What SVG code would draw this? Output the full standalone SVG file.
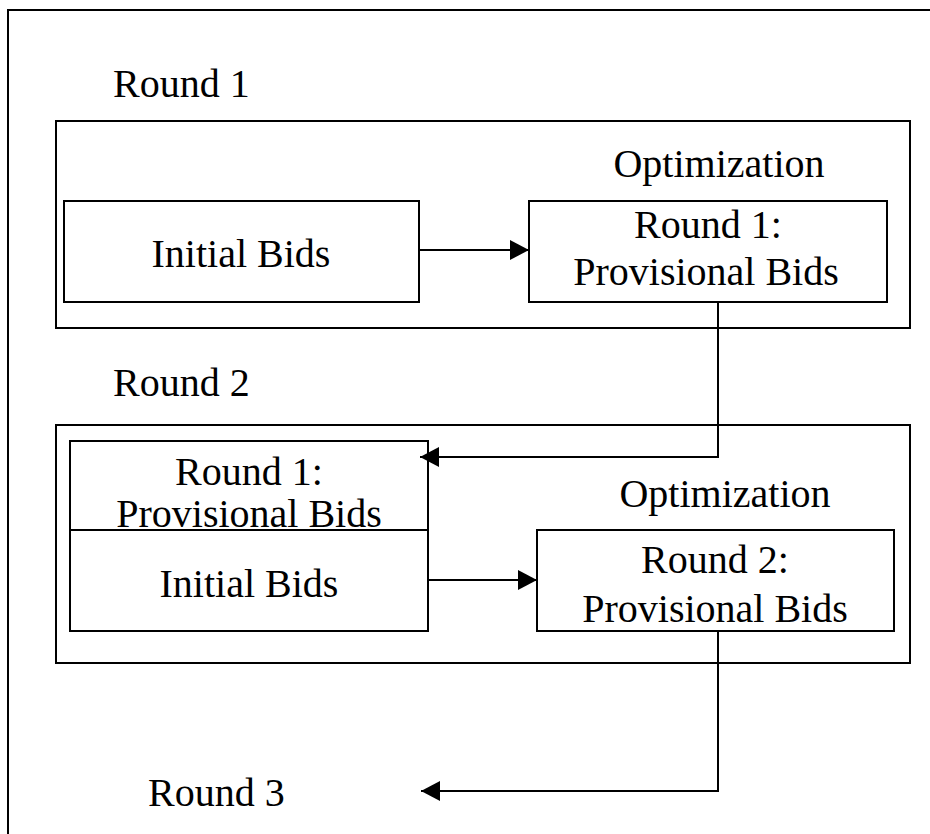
<svg xmlns="http://www.w3.org/2000/svg" width="930" height="834" viewBox="0 0 930 834">
<defs>
<style>
.box{fill:none;stroke:#000;stroke-width:2}
.ln{fill:none;stroke:#000;stroke-width:2}
text{font-family:"Liberation Serif","Times New Roman",serif;font-size:40px;fill:#000}
.c{text-anchor:middle}
</style>
<marker id="ah" viewBox="0 0 19 20" refX="19" refY="10" markerWidth="19" markerHeight="20" markerUnits="userSpaceOnUse" orient="auto">
<path d="M0,0 L19,10 L0,20 z" fill="#000"/>
</marker>
</defs>
<rect width="930" height="834" fill="#fff"/>
<g id="frame"><path class="ln" d="M8,834 V10 H930"/></g>
<g id="round1">
<text x="113" y="97">Round 1</text>
<rect class="box" x="56" y="121" width="854" height="207"/>
<text class="c" x="719" y="177">Optimization</text>
</g>
<g id="r1-initial">
<rect class="box" x="64" y="201" width="355" height="101"/>
<text class="c" x="241" y="267">Initial Bids</text>
</g>
<g id="r1-provisional">
<rect class="box" x="529" y="201" width="358" height="101"/>
<text class="c" x="708" y="238">Round 1:</text>
<text class="c" x="706" y="285">Provisional Bids</text>
</g>
<g id="round2">
<text x="113" y="396">Round 2</text>
<rect class="box" x="56" y="425" width="854" height="238"/>
<text class="c" x="725" y="507">Optimization</text>
</g>
<g id="r2-prev">
<rect class="box" x="70" y="441" width="358" height="89"/>
<text class="c" x="249" y="485">Round 1:</text>
<text class="c" x="249" y="527">Provisional Bids</text>
</g>
<g id="r2-initial">
<rect class="box" x="70" y="530" width="358" height="101"/>
<text class="c" x="249" y="597">Initial Bids</text>
</g>
<g id="r2-provisional">
<rect class="box" x="537" y="530" width="357" height="101"/>
<text class="c" x="715" y="573">Round 2:</text>
<text class="c" x="715" y="622">Provisional Bids</text>
</g>
<g id="round3">
<text x="148" y="806">Round 3</text>
</g>
<g id="connectors">
<path class="ln" d="M419,250 H529" marker-end="url(#ah)"/>
<path class="ln" d="M718,302 V457 H420" marker-end="url(#ah)"/>
<path class="ln" d="M428,580 H537" marker-end="url(#ah)"/>
<path class="ln" d="M718,631 V791 H421" marker-end="url(#ah)"/>
</g>
</svg>
